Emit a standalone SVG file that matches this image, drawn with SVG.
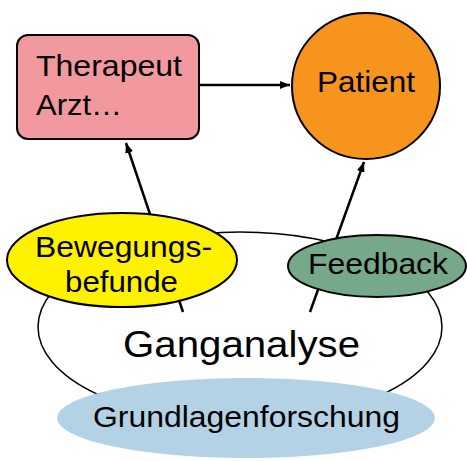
<svg xmlns="http://www.w3.org/2000/svg" width="467" height="461" viewBox="0 0 467 461">
<style>
text{font-family:"Liberation Sans",Arial,sans-serif;font-size:29px;fill:#000}
.n{stroke:#000;stroke-width:2}
.c{stroke:#000;stroke-width:2.5;fill:none}
</style>
<defs>
<marker id="ah" viewBox="0 0 10 8" refX="10" refY="4" markerWidth="4" markerHeight="3.2" orient="auto" markerUnits="strokeWidth">
<path d="M0,0 L10,4 L0,8 z" fill="#000"/>
</marker>
</defs>
<rect width="467" height="461" fill="#fff"/>
<g id="ganganalyse">
<ellipse cx="240" cy="327" rx="202" ry="95" fill="#fff" stroke="#000" stroke-width="1.5"/>
<text x="123" y="357" style="font-size:36px" textLength="237" lengthAdjust="spacingAndGlyphs">Ganganalyse</text>
</g>
<g id="connectors">
<line class="c" x1="183" y1="312" x2="126" y2="143" marker-end="url(#ah)"/>
<line class="c" x1="310" y1="312" x2="364" y2="162" marker-end="url(#ah)"/>
<line class="c" x1="199" y1="85" x2="290" y2="85" marker-end="url(#ah)"/>
</g>
<g id="grundlagenforschung">
<ellipse cx="246" cy="418" rx="189" ry="40" fill="#b4d2e6"/>
<text x="93" y="427" textLength="307" lengthAdjust="spacingAndGlyphs">Grundlagenforschung</text>
</g>
<g id="bewegungsbefunde">
<ellipse class="n" cx="122" cy="260" rx="115" ry="47" fill="#fff200"/>
<text x="35" y="257" textLength="177" lengthAdjust="spacingAndGlyphs">Bewegungs-</text>
<text x="65" y="292" textLength="113" lengthAdjust="spacingAndGlyphs">befunde</text>
</g>
<g id="feedback">
<ellipse class="n" cx="377" cy="266" rx="89" ry="31" fill="#76a98a"/>
<text x="308" y="274" textLength="140" lengthAdjust="spacingAndGlyphs">Feedback</text>
</g>
<g id="therapeut">
<rect class="n" x="17" y="35" width="182" height="104" rx="11" fill="#f1999f"/>
<text x="36" y="76" textLength="146" lengthAdjust="spacingAndGlyphs">Therapeut</text>
<text x="36" y="115" textLength="86" lengthAdjust="spacingAndGlyphs">Arzt…</text>
</g>
<g id="patient">
<ellipse class="n" cx="366" cy="86" rx="74" ry="73" fill="#f7941e"/>
<text x="317" y="92" textLength="98" lengthAdjust="spacingAndGlyphs">Patient</text>
</g>
</svg>
